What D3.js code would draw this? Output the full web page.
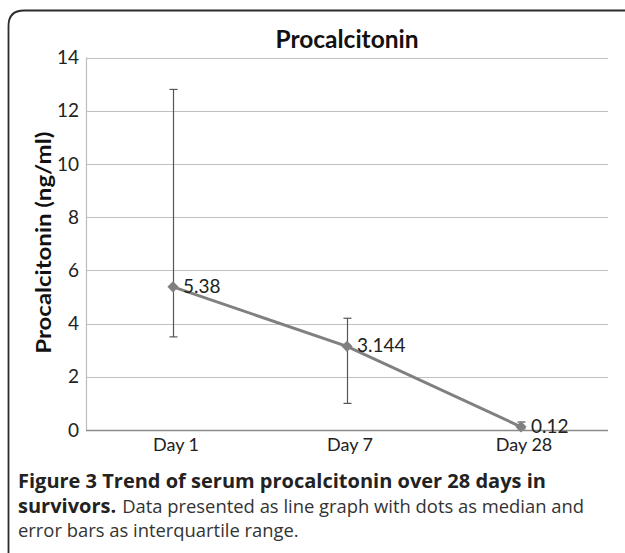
<!DOCTYPE html>
<html>
<head>
<meta charset="utf-8">
<script src="https://cdn.jsdelivr.net/npm/d3@7"></script>
<style>
  html, body { margin: 0; padding: 0; background: #fff; }
  svg { display: block; }
</style>
</head>
<body>
<svg id="chart" width="625" height="553"></svg>
<script>
const categories = ["Day 1", "Day 7", "Day 28"];
const medians = [5.38, 3.144, 0.12];
const medianLabels = ["5.38", "3.144", "0.12"];
const lowerQ = [3.5, 1.0, 0.05];
const upperQ = [12.8, 4.2, 0.3];
const yTicks = [0, 2, 4, 6, 8, 10, 12, 14];
const chartTitle = "Procalcitonin";
const yTitle = "Procalcitonin (ng/ml)";
const captionBold1 = "Figure 3 Trend of serum procalcitonin over 28 days in";
const captionBold2 = "survivors.";
const captionRest2 = "Data presented as line graph with dots as median and";
const captionLine3 = "error bars as interquartile range.";

const svg = d3.select("#chart");
const chartFont = "Lato, 'Open Sans', sans-serif";
const capFont = "'Open Sans', sans-serif";

// frame
svg.append("path")
  .attr("d", "M8.5,553 L8.5,26 Q8.5,10.5 24,10.5 L625,10.5")
  .attr("fill", "none").attr("stroke", "#2b2b2b").attr("stroke-width", 1.8);

const plot = { left: 86, right: 608, top: 57.5, bottom: 430 };

const x = d3.scaleBand().domain(categories).range([plot.left, plot.right]);
const y = d3.scaleLinear().domain([0, 14]).range([plot.bottom, plot.top]);

// gridlines
svg.append("g").selectAll("line").data(yTicks.filter(d => d > 0)).join("line")
  .attr("x1", plot.left).attr("x2", plot.right)
  .attr("y1", d => Math.round(y(d)) + 0.5).attr("y2", d => Math.round(y(d)) + 0.5)
  .attr("stroke", "#c0c0c0").attr("stroke-width", 1.2);

// left axis line
svg.append("line")
  .attr("x1", plot.left + 0.5).attr("x2", plot.left + 0.5)
  .attr("y1", y(14)).attr("y2", y(0))
  .attr("stroke", "#bdbdbd").attr("stroke-width", 1.2);

// y axis labels
const yAxis = d3.axisLeft(y).tickValues(yTicks).tickSize(0).tickPadding(7).tickFormat(d3.format("d"));
const ya = svg.append("g").attr("transform", `translate(${plot.left},0)`).call(yAxis);
ya.select(".domain").remove();
ya.selectAll("text").attr("font-family", chartFont).attr("font-size", 19).attr("fill", "#222");

// x axis
const xAxis = d3.axisBottom(x).tickSize(0).tickPadding(8);
const xa = svg.append("g").attr("transform", `translate(0,${plot.bottom})`).call(xAxis);
xa.select(".domain").attr("stroke", "#8a8a8a").attr("stroke-width", 1.3)
  .attr("d", `M${plot.left},0.5H${plot.right}`);
xa.selectAll("text").attr("font-family", chartFont).attr("font-size", 18).attr("fill", "#222")
  .attr("dx", 3);

const cx = d => x(d) + x.bandwidth() / 2;

// line
const pts = categories.map((c, i) => [cx(c), y(medians[i])]);
svg.append("path").datum(pts)
  .attr("d", d3.line())
  .attr("fill", "none").attr("stroke", "#808080").attr("stroke-width", 3);

// error bars
const eb = svg.append("g").attr("stroke", "#555").attr("stroke-width", 1.2);
categories.forEach((c, i) => {
  const xc = Math.round(cx(c)) + 0.5;
  eb.append("line").attr("x1", xc).attr("x2", xc).attr("y1", y(upperQ[i])).attr("y2", y(lowerQ[i]));
  eb.append("line").attr("x1", xc - 4).attr("x2", xc + 4).attr("y1", y(upperQ[i])).attr("y2", y(upperQ[i]));
  eb.append("line").attr("x1", xc - 4).attr("x2", xc + 4).attr("y1", y(lowerQ[i])).attr("y2", y(lowerQ[i]));
});

// markers
svg.append("g").selectAll("path").data(categories).join("path")
  .attr("transform", (c, i) => `translate(${cx(c)},${y(medians[i])})`)
  .attr("d", d3.symbol(d3.symbolDiamond2, 80))
  .attr("fill", "#808080");

// data labels
svg.append("g").selectAll("text").data(categories).join("text")
  .attr("x", c => cx(c) + 10)
  .attr("y", (c, i) => y(medians[i]) + 6)
  .attr("font-family", chartFont).attr("font-size", 19).attr("fill", "#222")
  .text((c, i) => medianLabels[i]);

// title
svg.append("text").attr("x", 347).attr("y", 48).attr("text-anchor", "middle")
  .attr("font-family", chartFont).attr("font-weight", "bold").attr("font-size", 24.5).attr("fill", "#111")
  .text(chartTitle);

// y title
svg.append("text").attr("transform", `translate(51,${(plot.top + plot.bottom) / 2 - 1}) rotate(-90)`)
  .attr("text-anchor", "middle")
  .attr("font-family", chartFont).attr("font-weight", "bold").attr("font-size", 21).attr("fill", "#111")
  .attr("textLength", 222).attr("lengthAdjust", "spacingAndGlyphs")
  .text(yTitle);

// caption
const cap = svg.append("g").attr("font-family", capFont).attr("fill", "#222");
cap.append("text").attr("x", 18).attr("y", 488).attr("font-size", 20).attr("font-weight", "bold").text(captionBold1);
const b2 = cap.append("text").attr("x", 18).attr("y", 513).attr("font-size", 20).attr("font-weight", "bold").text(captionBold2);
const bw = b2.node().getComputedTextLength();
cap.append("text").attr("x", 18 + bw + 6).attr("y", 513).attr("font-size", 18.4).attr("fill", "#333").text(captionRest2);
cap.append("text").attr("x", 18).attr("y", 537).attr("font-size", 18.4).attr("fill", "#333").text(captionLine3);
</script>
</body>
</html>
